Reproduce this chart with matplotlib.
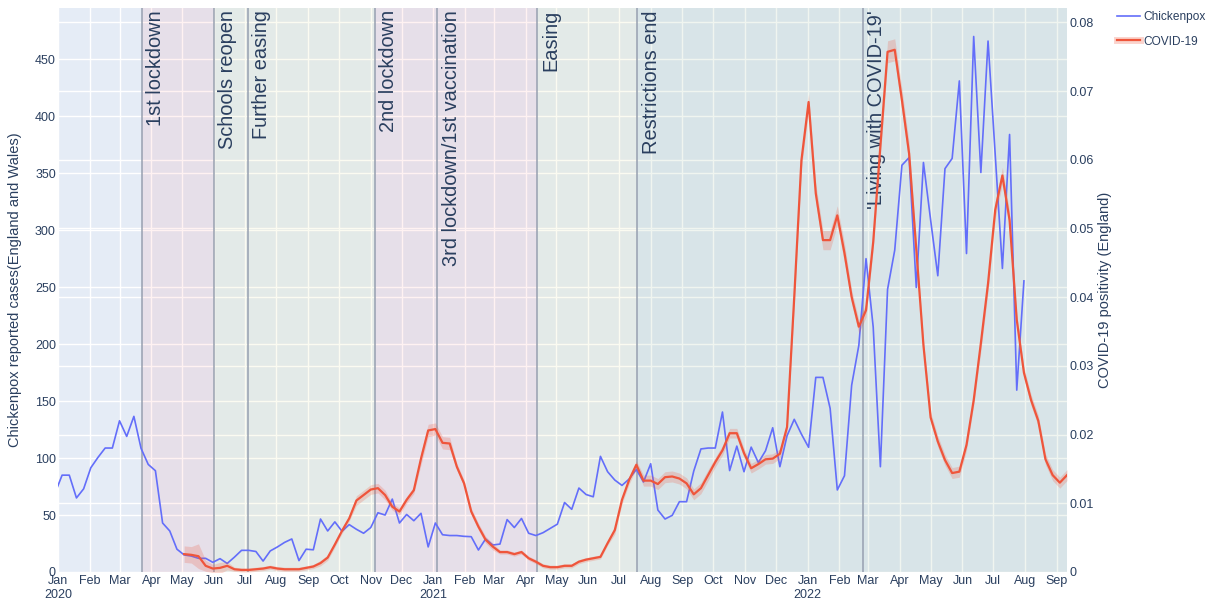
import numpy as np
import pandas as pd
import matplotlib
matplotlib.use('Agg')
from matplotlib import pyplot as plt
from matplotlib import dates as mdates
from matplotlib.lines import Line2D
from matplotlib.ticker import FuncFormatter
from matplotlib.transforms import blended_transform_factory

plt.rcParams['font.family'] = ['Liberation Sans', 'DejaVu Sans']

## data ---------

# weekly chickenpox reports (England and Wales), first week ending 29 Dec 2019
chickenpox_start = '2019-12-29'
chickenpox_cases = [
    69, 85, 85, 65, 73, 91.5, 100.6, 108.8, 108.8, 132.7, 119, 136.6, 108.5, 94.4, 88.9,
    43, 36, 20, 15, 14, 12, 12, 8.5, 11.7, 7.5, 13, 19, 19, 18, 9.6, 18.5, 22, 26, 29,
    10, 20, 19.5, 46.5, 36, 44, 35.7, 41.6, 37.5, 34, 39, 52, 50, 64, 43, 50.5, 45,
    51.5, 22, 43, 32.7, 32, 32, 31.3, 31, 19.3, 29, 23.7, 24.5, 46, 39, 47, 34, 32,
    34.5, 38.3, 42, 61, 55, 73.7, 68, 66, 101.5, 88, 80.7, 76, 81.6, 90, 79, 95, 54.4,
    46.5, 49.7, 61.7, 61.7, 88.6, 108, 108.8, 108.8, 140.4, 89, 110.5, 88, 109.6, 96,
    106.4, 126.6, 92.4, 119.6, 134, 121, 109.4, 170.8, 170.8, 143.6, 72, 84.5, 164,
    199, 275, 215, 92.4, 248, 282.5, 357, 363.7, 249.7, 359.4, 309, 260, 354, 363,
    431, 279.5, 470, 350.6, 466, 366, 266.4, 384, 159.6, 255.5,
]

# weekly COVID-19 positivity (England) and half width of the interval
covid_start = '2020-05-03'
covid_positivity = [
    0.0026, 0.0025, 0.0023, 0.0009, 0.0005, 0.0006, 0.0009, 0.0004, 0.0003, 0.0003,
    0.0004, 0.0005, 0.0007, 0.0005, 0.0004, 0.0004, 0.0004, 0.0006, 0.0008, 0.0013,
    0.0021, 0.0040, 0.0060, 0.0078, 0.0104, 0.0112, 0.0120, 0.0122, 0.0112, 0.0095,
    0.0088, 0.0105, 0.0119, 0.0165, 0.0206, 0.0208, 0.0188, 0.0187, 0.0153, 0.0129,
    0.0088, 0.0066, 0.0047, 0.0037, 0.0029, 0.0029, 0.0026, 0.0029, 0.0020, 0.0015,
    0.0009, 0.0007, 0.0007, 0.0009, 0.0009, 0.0015, 0.0018, 0.0020, 0.0022, 0.0042,
    0.0061, 0.0105, 0.0134, 0.0156, 0.0133, 0.0133, 0.0128, 0.0138, 0.0139, 0.0136,
    0.0129, 0.0113, 0.0122, 0.0141, 0.0160, 0.0177, 0.0202, 0.0202, 0.0173, 0.0151,
    0.0157, 0.0164, 0.0165, 0.0172, 0.0211, 0.0400, 0.0599, 0.0684, 0.0551, 0.0483,
    0.0483, 0.0519, 0.0464, 0.0400, 0.0357, 0.0381, 0.0480, 0.0620, 0.0757, 0.0760,
    0.0687, 0.0609, 0.0470, 0.0330, 0.0225, 0.0190, 0.0163, 0.0144, 0.0146, 0.0185,
    0.0250, 0.0333, 0.0420, 0.0527, 0.0577, 0.0512, 0.0367, 0.0290, 0.0250, 0.0220,
    0.0164, 0.0141, 0.0130, 0.0141,
]
covid_halfwidth = [
    0.0012, 0.0012, 0.0018, 0.0008, 0.0006, 0.0008, 0.0006,
    0.0003, 0.0003, 0.0003, 0.0003, 0.0003, 0.0003, 0.0003, 0.0003, 0.0003, 0.0003, 0.0003, 0.0003,
    0.0004, 0.0004, 0.0004, 0.0004, 0.0004,
    0.0007, 0.0007, 0.0007, 0.0007, 0.0007,
    0.0005, 0.0005, 0.0005, 0.0005,
    0.0009, 0.0009, 0.0009, 0.0009, 0.0009,
    0.0005, 0.0005, 0.0005, 0.0005, 0.0005, 0.0005,
    0.0003, 0.0003, 0.0003, 0.0003, 0.0003, 0.0003, 0.0003, 0.0003,
    0.0003, 0.0003, 0.0003, 0.0003, 0.0003, 0.0003, 0.0003, 0.0003,
    0.0006, 0.0006, 0.0006, 0.0006,
    0.0008, 0.0008, 0.0008, 0.0008, 0.0008, 0.0008, 0.0008, 0.0008, 0.0008, 0.0008,
    0.0007, 0.0007, 0.0007, 0.0007, 0.0007, 0.0007, 0.0007, 0.0007, 0.0007, 0.0007, 0.0007,
    0.0012, 0.0012, 0.0012,
    0.0014, 0.0014, 0.0014, 0.0014, 0.0014,
    0.0010, 0.0010, 0.0010, 0.0010,
    0.0016, 0.0016, 0.0016, 0.0016, 0.0016,
    0.0008, 0.0008, 0.0008, 0.0008, 0.0008, 0.0008, 0.0008, 0.0008, 0.0008,
    0.0012, 0.0012, 0.0012, 0.0012, 0.0012,
    0.0008, 0.0008, 0.0008, 0.0008, 0.0008, 0.0008, 0.0008, 0.0008,
]

# policy events, and the kind of period each one starts
event_dates = ['2020-03-23', '2020-06-01', '2020-07-04', '2020-11-05',
               '2021-01-05', '2021-04-12', '2021-07-19', '2022-02-24']
event_labels = ['1st lockdown', 'Schools reopen', 'Further easing', '2nd lockdown',
                '3rd lockdown/1st vaccination', 'Easing', 'Restrictions end',
                "'Living with COVID-19'"]
event_kinds = ['lockdown', 'easing', 'easing', 'lockdown',
               'lockdown', 'easing', 'open', 'open']

## styling ---------
TEXT = '#2a3f5f'
BLUE = '#636efa'
RED = '#ef553b'
band_style = {'lockdown': ('#ff0000', 0.05),
              'easing': ('#d2d23c', 0.07),
              'open': ('#6da674', 0.10)}

pox_dates = pd.date_range(chickenpox_start, periods=len(chickenpox_cases), freq='7D')
cov_dates = pd.date_range(covid_start, periods=len(covid_positivity), freq='7D')
cov = np.array(covid_positivity)
ci = np.array(covid_halfwidth)
events = pd.to_datetime(event_dates)

x_start = pd.Timestamp('2020-01-01')
x_end = cov_dates[-1]

fig = plt.figure(figsize=(12.08, 6.04), dpi=100)
ax = fig.add_axes([58 / 1208, 1 - 572 / 604, (1067 - 58) / 1208, (572 - 8) / 604])
ax.set_facecolor('#e5ecf6')
ax2 = ax.twinx()

left_top = 495
right_top = 0.08208
ax.set_xlim(x_start, x_end)
ax.set_ylim(0, left_top)
ax2.set_ylim(0, right_top)

# grid (both y axes) below the coloured periods
ax.set_axisbelow(True)
ax.grid(True, color='white', lw=1)
ax2.grid(False)
right_ticks = np.arange(0, 0.0801, 0.01)
trans = blended_transform_factory(ax.transAxes, ax2.transData)
for v in right_ticks[1:]:
    ax.add_line(Line2D([0, 1], [v, v], transform=trans, color='white', lw=1, zorder=0.6))

# coloured periods and event lines
bounds = list(events) + [x_end]
for i, kind in enumerate(event_kinds):
    col, alpha = band_style[kind]
    ax.axvspan(bounds[i], bounds[i + 1], color=col, alpha=alpha, lw=0, zorder=1)
for d, lab in zip(events, event_labels):
    ax.axvline(d, color='#97a0b0', lw=1.1, zorder=1.5)
    ax.annotate(lab, xy=(d, 1), xycoords=('data', 'axes fraction'),
                xytext=(3, -1.5), textcoords='offset points', rotation=90,
                ha='left', va='top', fontsize=14.4, color=TEXT, zorder=3)

# series
ax.plot(pox_dates, chickenpox_cases, color=BLUE, lw=1.2, zorder=2)
ax2.fill_between(cov_dates, cov - ci, cov + ci, color=RED, alpha=0.22, lw=0)
ax2.plot(cov_dates, cov, color=RED, lw=1.6)

# axes
ax.set_yticks(range(0, 451, 50))
ax2.set_yticks(right_ticks)
ax2.yaxis.set_major_formatter(FuncFormatter(lambda v, p: f'{v:.2f}'.rstrip('0').rstrip('.')))
ax.xaxis.set_major_locator(mdates.MonthLocator())


def month_label(x, pos):
    d = mdates.num2date(x)
    return d.strftime('%b\n%Y') if d.month == 1 else d.strftime('%b')


ax.xaxis.set_major_formatter(FuncFormatter(month_label))
for a in (ax, ax2):
    for s in a.spines.values():
        s.set_visible(False)
    a.tick_params(length=0, labelsize=9, labelcolor=TEXT, pad=1.5)
ax.tick_params(axis='x', pad=2)

ax.set_ylabel('Chickenpox reported cases(England and Wales)', fontsize=10.5, color=TEXT)
ax.yaxis.set_label_coords((22 - 58) / 1009, 0.5)
ax2.set_ylabel('COVID-19 positivity (England)', fontsize=10.5, color=TEXT)
ax2.yaxis.set_label_coords((1098 - 58) / 1009, 0.5)

handles = [Line2D([], [], color=BLUE, lw=1.2),
           (Line2D([], [], color=RED, alpha=0.25, lw=5), Line2D([], [], color=RED, lw=1.6))]
fig.legend(handles, ['Chickenpox', 'COVID-19'], loc='upper left',
           bbox_to_anchor=(1117 / 1208, 1 - 11 / 604), frameon=False, fontsize=8.6,
           labelcolor=TEXT, handlelength=1.9, handletextpad=0.3, labelspacing=1.05,
           borderpad=0, borderaxespad=0)

fig.savefig('out.png', dpi=100)
